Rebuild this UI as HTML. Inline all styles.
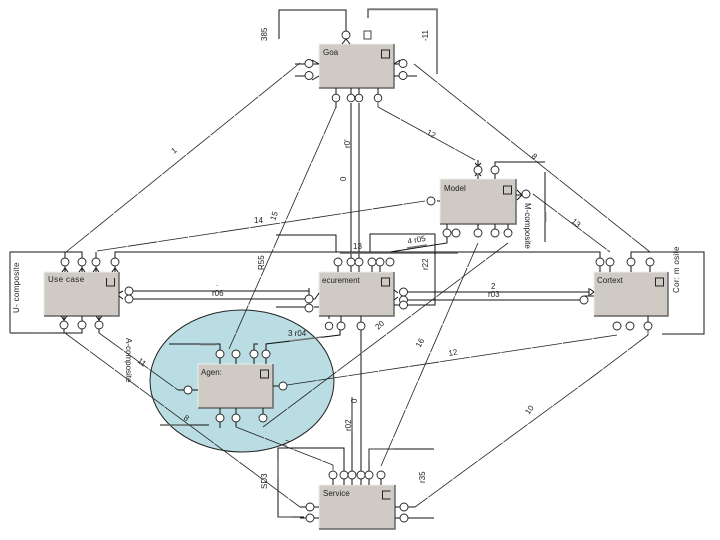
<!DOCTYPE html>
<html><head><meta charset="utf-8"><style>
html,body{margin:0;padding:0;background:#fff;width:720px;height:540px;overflow:hidden}
svg{display:block}
text{font-family:"Liberation Sans",sans-serif;font-size:8px;fill:#222}
.b{fill:#cfcbc4;stroke:#eee;stroke-width:1}
.s{fill:none;stroke:#666;stroke-width:1.5}
.q{fill:none;stroke:#222;stroke-width:1}
.l{fill:none;stroke:#111;stroke-width:1}
.d{fill:none;stroke:#222;stroke-width:.8;stroke-dasharray:30 1}
.g{fill:none;stroke:#777;stroke-width:1.6}
circle{fill:#fff;stroke:#222;stroke-width:.9}
</style></head><body>
<svg width="720" height="540" viewBox="0 0 720 540" xmlns="http://www.w3.org/2000/svg">
<ellipse cx="242" cy="381" rx="92" ry="71" fill="#b9dde2" stroke="#222" stroke-width="1"/>

<!-- solid connectors -->
<path class="l" d="M279 39V10H346V31"/>
<path class="l" d="M368 18V9H437V74"/>
<path class="g" d="M368 9.500H437"/>
<path class="l" d="M351 103V272M359 103V272"/>
<path class="l" d="M10 333V252H82V258M10 333H82V329M115 258V252H600V258M631 258V252H704V334H662"/>
<path class="s" d="M10 252V333M33 333H52M340 253H458M652 252H672M662 334H680"/>
<path class="l" d="M130 291H309M130 299H309M276 307H309"/>
<path class="l" d="M403 292H589M403 300H580M403 305H435V234H370V252"/>
<path class="l" d="M276 235H336V252"/>
<path class="l" d="M495 166V162H545M545 172V242"/>
<path class="s" d="M545.500 212V222"/>
<path class="l" d="M169 344H220V350M160 425H209"/>
<path class="s" d="M200 344.500H216M160 425H190"/>
<path class="l" d="M254 350V344H258M266 350V344L340 335V330"/>
<path class="g" d="M290 341L322 337"/>
<path class="l" d="M361 330V472M352 397V472"/>
<path class="g" d="M352 397V431"/>
<path class="l" d="M344 471V448H278V517H304"/>
<path class="g" d="M278 460V478M278 517H292"/>
<path class="l" d="M369 471V449H434M394 518H434M413 518H434"/>
<path class="g" d="M369 449H393M369 450V461"/>
<path class="l" d="M447 237V243L390 252"/>
<path class="g" d="M407 248L427 245"/>

<!-- diagonal connectors -->
<path class="d" d="M66 252L300 63"/>
<path class="d" d="M414 64L650 252"/>
<path class="d" d="M336 107L229 349"/>
<path class="d" d="M378 102V107L475 160"/>
<path class="d" d="M97 251L425 201"/>
<path class="d" d="M533 194L610 252"/>
<path class="d" d="M99 333L178 390"/>
<path class="d" d="M65 333L300 507"/>
<path class="d" d="M236 427L333 465V470"/>
<path class="d" d="M287 385L617 335"/>
<path class="d" d="M263 427L508 243"/>
<path class="d" d="M381 466L478 243"/>
<path class="d" d="M648 330V335L595 375L415 507"/>

<!-- Boxes -->
<g>
<rect class="b" x="319" y="44" width="75" height="44"/><path class="s" d="M319 88H394V44"/>
<rect class="q" x="381.500" y="50" width="8" height="8"/><text x="323" y="55">Goa</text>
<rect class="b" x="44" y="272" width="75" height="44"/><path class="s" d="M44 316H119V272"/>
<path class="q" d="M106.500 278V286H114.500V278"/><text x="48" y="282" letter-spacing=".4">Use case</text>
<rect class="b" x="319" y="272" width="75" height="44"/><path class="s" d="M319 316H394V272"/>
<rect class="q" x="381.500" y="278" width="8" height="8"/><text x="322" y="283">ecurement</text>
<rect class="b" x="594" y="272" width="74" height="44"/><path class="s" d="M594 316H668V272"/>
<rect class="q" x="655.500" y="278" width="8" height="8"/><text x="597" y="283">Cortext</text>
<rect class="b" x="440" y="179" width="76" height="45"/><path class="s" d="M440 224H516V179"/>
<rect class="q" x="503.500" y="186" width="8" height="8"/><text x="444" y="191">Model</text>
<rect class="b" x="198" y="364" width="75" height="44"/><path class="s" d="M198 408H273V364"/>
<rect class="q" x="260.500" y="370" width="8" height="8"/><text x="201" y="375">Agen:</text>
<rect class="b" x="319" y="485" width="76" height="44"/><path class="s" d="M319 529H395V485"/>
<path class="q" d="M390.500 491H382.500V499H390.500"/><text x="323" y="496">Service</text>
</g>

<!-- connector end marks -->
<path class="l" d="M346 39L342 44M346 39L350 44
M336 88V94M351 88V94M359 88V94M378 88V94M336 102V108
M313 64H319M313 76H295M394 64H399M394 76H417M295 64H305
M312 60L319 64M312 80L319 76M400 60L394 64
M65 266V272M82 266V272M96 266V272M115 266V272M65 258V252M96 258V252
M62 272L65 268L68 272M79 272L82 268L85 272M93 272L96 268L99 272M112 272L115 268L118 272
M64 316V321M82 316V321M99 316V321M64 329V333M99 329V333
M61 316L64 320L67 316M96 316L99 320L102 316
M338 266V272M351 266V272M359 266V272M372 266V272M380 266V272
M341 316V322M361 316V322M329 316V319
M309 288V295M123 291L119 293M123 299L119 296
M309 299L315 299M314 307H319M315 299L319 293M394 290L398 293M394 300L398 297M394 305H399
M589 288V296M594 292L590 289M594 292L590 295M584 296H594
M600 258V272M610 258V272M631 258V272M650 258V272M648 316V322
M478 160V165M478 175V179M495 174V179M475 176L478 173L481 176M475 163L478 166L481 163
M447 224V229M478 224V229M495 224V229M508 224V237
M437 201H440M516 195H522M517 190L522 195L517 200
M220 350V364M236 350V364M254 350V364M266 350V364
M220 408V414M236 408V414M263 408V414M220 422V428M236 422V427
M192 390H198M273 386H279"/>
<path class="l" d="M178 390H184M333 479V485M344 479V485M352 479V485M361 479V485M369 479V485M381 479V485
M300 507H306M314 507H319M314 518H319M300 518H306M395 507H400M395 518H400M408 507H415"/>

<!-- circles -->
<g>
<circle cx="346" cy="35" r="4"/><rect x="364" y="31" width="7" height="8" fill="#fff" stroke="#444"/>
<circle cx="309" cy="63.500" r="4"/><circle cx="309" cy="75.500" r="4"/>
<circle cx="403" cy="63.500" r="4"/><circle cx="403" cy="75.500" r="4"/>
<circle cx="336" cy="98" r="3.800"/><circle cx="351" cy="98" r="3.800"/><circle cx="359" cy="98" r="3.800"/><circle cx="378" cy="98" r="3.800"/>
<circle cx="65" cy="262" r="4"/><circle cx="82" cy="262" r="4"/><circle cx="96" cy="262" r="4"/><circle cx="115" cy="262" r="4"/>
<circle cx="64" cy="325" r="4"/><circle cx="82" cy="325" r="4"/><circle cx="99" cy="325" r="4"/>
<circle cx="129" cy="291" r="4"/><circle cx="129" cy="299" r="4"/>
<circle cx="338" cy="262" r="4"/><circle cx="351" cy="262" r="4"/><circle cx="359" cy="262" r="4"/><circle cx="372" cy="262" r="4"/><circle cx="380" cy="262" r="4"/><circle cx="390" cy="262" r="4"/>
<circle cx="309" cy="299" r="4"/><circle cx="309" cy="308" r="4"/>
<circle cx="403.500" cy="292" r="4"/><circle cx="403.500" cy="300" r="4"/><circle cx="403.500" cy="305" r="4"/>
<circle cx="329" cy="326" r="3.800"/><circle cx="341" cy="326" r="4"/><circle cx="361" cy="326" r="4"/>
<circle cx="600" cy="262" r="4"/><circle cx="610" cy="262" r="4"/><circle cx="631" cy="262" r="4"/><circle cx="650" cy="262" r="4"/>
<circle cx="584" cy="300" r="4"/>
<circle cx="617" cy="326" r="4"/><circle cx="630" cy="326" r="4"/><circle cx="648" cy="326" r="4"/>
<circle cx="478" cy="170" r="4"/><circle cx="495" cy="170" r="4"/><circle cx="431" cy="201" r="4"/><circle cx="526" cy="194" r="4"/>
<circle cx="447" cy="233" r="4"/><circle cx="456" cy="233" r="4"/><circle cx="478" cy="233" r="4"/><circle cx="495" cy="233" r="4"/><circle cx="508" cy="233" r="4"/>
<circle cx="220" cy="354" r="4"/><circle cx="236" cy="354" r="4"/><circle cx="254" cy="354" r="4"/><circle cx="266" cy="354" r="4"/>
<circle cx="188" cy="390" r="4"/><circle cx="283" cy="386" r="4"/>
<circle cx="220" cy="418" r="4"/><circle cx="236" cy="418" r="4"/><circle cx="263" cy="418" r="4"/>
<circle cx="333" cy="475" r="4"/><circle cx="344" cy="475" r="4"/><circle cx="352" cy="475" r="4"/><circle cx="361" cy="475" r="4"/><circle cx="369" cy="475" r="4"/><circle cx="381" cy="475" r="4"/>
<circle cx="310" cy="507" r="4"/><circle cx="310" cy="518" r="4"/><circle cx="404" cy="507" r="4"/><circle cx="404" cy="518" r="4"/>
</g>

<!-- labels -->
<g>
<text transform="translate(267 41) rotate(-90)">385</text>
<text transform="translate(428 41) rotate(-90)">-11</text>
<text x="174" y="154" transform="rotate(-40 174 154)">1</text>
<text x="426" y="134" transform="rotate(30 426 134)">12</text>
<text transform="translate(350 148) rotate(-90)">r0'</text>
<text transform="translate(346 181) rotate(-90)">0</text>
<text x="531" y="157" transform="rotate(40 531 157)">8</text>
<text transform="translate(525 203) rotate(90)">M-composite</text>
<text x="571" y="222" transform="rotate(40 571 222)">13</text>
<text x="254" y="223">14</text>
<text x="275" y="221" transform="rotate(-70 275 221)">15</text>
<text transform="translate(264 270) rotate(-90)">R55</text>
<text x="353" y="249">13</text>
<text x="408" y="244" transform="rotate(-10 408 244)">4 r05</text>
<text transform="translate(428 270) rotate(-90)">r22</text>
<text transform="translate(19 313) rotate(-90)" letter-spacing=".3">U- composite</text>
<text x="216" y="286">.</text>
<text x="212" y="296">r06</text>
<text x="491" y="289">2</text>
<text x="488" y="297">r03</text>
<text transform="translate(679 293) rotate(-90)" letter-spacing=".3">Cor: m osite</text>
<text transform="translate(126 338) rotate(90)">A-composite</text>
<text x="137" y="362" transform="rotate(35 137 362)">11</text>
<text x="183" y="419" transform="rotate(35 183 419)">8</text>
<text x="288" y="336">3 r04</text>
<text x="378" y="330" transform="rotate(-40 378 330)">20</text>
<text x="420" y="348" transform="rotate(-60 420 348)">16</text>
<text x="449" y="356" transform="rotate(-10 449 356)">12</text>
<text transform="translate(529 415) rotate(-55)">10</text>
<text transform="translate(357 403) rotate(-90)">0</text>
<text transform="translate(351 431) rotate(-90)">r02</text>
<text x="283" y="444" transform="rotate(30 283 444)">2</text>
<text transform="translate(267 489) rotate(-90)">SD3</text>
<text transform="translate(425 483) rotate(-90)">r35</text>
</g>
</svg>
</body></html>
